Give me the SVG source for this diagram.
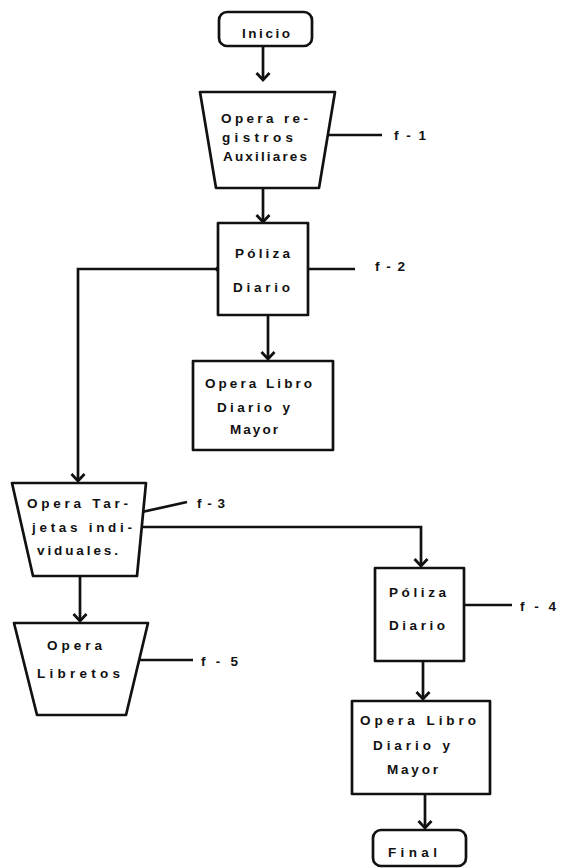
<svg xmlns="http://www.w3.org/2000/svg" width="561" height="868" viewBox="0 0 561 868">
<defs>
<marker id="ah" markerUnits="userSpaceOnUse" markerWidth="20" markerHeight="20" viewBox="-10 -10 20 20" refX="0" refY="0" orient="auto">
<path d="M-7,-6.5 L0,0 L-7,6.5" fill="none" stroke="#111" stroke-width="2.8" stroke-linejoin="miter"/>
</marker>
<style>
.s{fill:#fff;stroke:#111;stroke-width:2.7;stroke-linejoin:round}
.c{fill:none;stroke:#111;stroke-width:2.7}
.t{font-family:"Liberation Sans",Arial,sans-serif;font-weight:bold;font-size:13.5px;fill:#111;dominant-baseline:central}
</style>
</defs>
<rect width="561" height="868" fill="#fff"/>
<g id="connectors">
<line class="c" x1="263" y1="46" x2="263" y2="80" marker-end="url(#ah)"/>
<line class="c" x1="263" y1="188" x2="263" y2="222" marker-end="url(#ah)"/>
<line class="c" x1="268" y1="315" x2="268" y2="359" marker-end="url(#ah)"/>
<polyline class="c" points="218,269 78,269 78,481" marker-end="url(#ah)"/>
<circle cx="218" cy="269" r="2.6" fill="#111"/>
<line class="c" x1="80" y1="576" x2="80" y2="621" marker-end="url(#ah)"/>
<polyline class="c" points="133,527 421,527 421,566" marker-end="url(#ah)"/>
<line class="c" x1="423" y1="661" x2="423" y2="699" marker-end="url(#ah)"/>
<line class="c" x1="425" y1="794" x2="425" y2="828" marker-end="url(#ah)"/>
<line class="c" x1="327" y1="135" x2="382" y2="135"/>
<line class="c" x1="308" y1="269" x2="355" y2="269"/>
<line class="c" x1="142" y1="512" x2="187" y2="502"/>
<line class="c" x1="464" y1="605" x2="512" y2="605"/>
<line class="c" x1="139" y1="660" x2="193" y2="660"/>
</g>
<g id="inicio">
<rect class="s" x="219" y="12" width="93" height="34" rx="8"/>
<text class="t" x="242" y="33" textLength="48" lengthAdjust="spacing">Inicio</text>
</g>
<g id="registros">
<polygon class="s" points="200,92 335,92 319,188 216,188"/>
<text class="t" x="221" y="118" textLength="87" lengthAdjust="spacing">Opera re-</text>
<text class="t" x="222" y="137" textLength="71" lengthAdjust="spacing">gistros</text>
<text class="t" x="223" y="156" textLength="84" lengthAdjust="spacing">Auxiliares</text>
<text class="t" x="394" y="135" textLength="32" lengthAdjust="spacing">f-1</text>
</g>
<g id="poliza1">
<rect class="s" x="218" y="223" width="90" height="92"/>
<text class="t" x="235" y="253" textLength="55" lengthAdjust="spacing">Póliza</text>
<text class="t" x="233" y="287" textLength="57" lengthAdjust="spacing">Diario</text>
<text class="t" x="375" y="266" textLength="30" lengthAdjust="spacing">f-2</text>
</g>
<g id="libro1">
<rect class="s" x="193" y="361" width="140" height="89"/>
<text class="t" x="205" y="383" textLength="107" lengthAdjust="spacing">Opera Libro</text>
<text class="t" x="217" y="407" textLength="73" lengthAdjust="spacing">Diario y</text>
<text class="t" x="230" y="429" textLength="48" lengthAdjust="spacing">Mayor</text>
</g>
<g id="tarjetas">
<polygon class="s" points="12,483 146,483 137,576 33,576"/>
<text class="t" x="27" y="503" textLength="101" lengthAdjust="spacing">Opera Tar-</text>
<text class="t" x="32" y="527" textLength="100" lengthAdjust="spacing">jetas indi-</text>
<text class="t" x="37" y="550" textLength="81" lengthAdjust="spacing">viduales.</text>
<text class="t" x="197" y="503" textLength="28" lengthAdjust="spacing">f-3</text>
</g>
<g id="libretos">
<polygon class="s" points="14,623 148,623 126,715 37,715"/>
<text class="t" x="47" y="645" textLength="55" lengthAdjust="spacing">Opera</text>
<text class="t" x="37" y="673" textLength="83" lengthAdjust="spacing">Libretos</text>
<text class="t" x="201" y="661" textLength="37" lengthAdjust="spacing">f-5</text>
</g>
<g id="poliza2">
<rect class="s" x="375" y="568" width="89" height="93"/>
<text class="t" x="389" y="592" textLength="57" lengthAdjust="spacing">Póliza</text>
<text class="t" x="389" y="625" textLength="56" lengthAdjust="spacing">Diario</text>
<text class="t" x="520" y="606" textLength="36" lengthAdjust="spacing">f-4</text>
</g>
<g id="libro2">
<rect class="s" x="352" y="701" width="138" height="93"/>
<text class="t" x="360" y="720" textLength="116" lengthAdjust="spacing">Opera Libro</text>
<text class="t" x="373" y="745" textLength="77" lengthAdjust="spacing">Diario y</text>
<text class="t" x="387" y="769" textLength="51" lengthAdjust="spacing">Mayor</text>
</g>
<g id="final">
<rect class="s" x="373" y="830" width="93" height="36" rx="8"/>
<text class="t" x="388" y="852" textLength="49" lengthAdjust="spacing">Final</text>
</g>
</svg>
